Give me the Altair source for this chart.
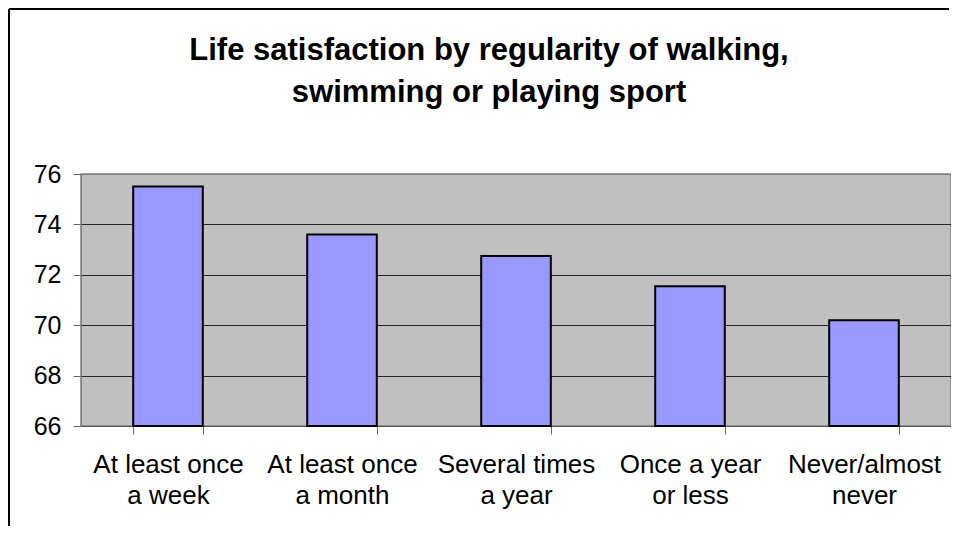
import altair as alt
import pandas as pd

CATEGORIES = [
    "At least once a week",
    "At least once a month",
    "Several times a year",
    "Once a year or less",
    "Never/almost never",
]
LABEL_LINE1 = ["At least once", "At least once", "Several times", "Once a year", "Never/almost"]
LABEL_LINE2 = ["a week", "a month", "a year", "or less", "never"]
VALUES = [75.5, 73.6, 72.75, 71.55, 70.2]
Y_TICKS = [66, 68, 70, 72, 74, 76]
Y_MIN, Y_MAX = 66, 76
TITLE_LINES = ["Life satisfaction by regularity of walking,", "swimming or playing sport"]

FONT = "Liberation Sans"

df = pd.DataFrame({"category": CATEGORIES, "value": VALUES})

label_map = "{" + ", ".join(
    f"'{c}': ['{a}', '{b}']" for c, a, b in zip(CATEGORIES, LABEL_LINE1, LABEL_LINE2)
) + "}"
label_expr = f"{label_map}[datum.value]"

bars = alt.Chart(df).mark_bar(color="#9999FF", stroke="black", strokeWidth=2).encode(
    x=alt.X(
        "category:N",
        sort=CATEGORIES,
        scale=alt.Scale(paddingInner=0.6, paddingOuter=0.3),
        axis=alt.Axis(
            title=None,
            labelExpr=label_expr,
            labelAngle=0,
            labelFont=FONT,
            labelFontSize=26,
            labelLineHeight=31,
            labelPadding=17,
            labelColor="black",
            tickBand="extent",
            tickSize=8,
            tickColor="#666666",
            domainColor="#555555",
            grid=False,
        ),
    ),
    y=alt.Y(
        "value:Q",
        scale=alt.Scale(domain=[Y_MIN, Y_MAX], nice=False, zero=False),
        axis=alt.Axis(
            title=None,
            values=Y_TICKS,
            labelFont=FONT,
            labelFontSize=25,
            labelPadding=12,
            labelColor="black",
            tickSize=8,
            tickColor="#666666",
            domainColor="#808080",
            grid=True,
            gridColor={"condition": {"test": "datum.value == 76", "value": "#808080"}, "value": "#222222"},
            gridWidth=1,
        ),
    ),
    y2=alt.datum(Y_MIN),
)

frame_df = pd.DataFrame({"k": [0]})
frame_left = alt.Chart(frame_df).mark_rule(color="black", strokeWidth=2).encode(
    x=alt.value(-72), y=alt.value(-165), y2=alt.value(420)
)
frame_top = alt.Chart(frame_df).mark_rule(color="black", strokeWidth=2).encode(
    x=alt.value(-72), x2=alt.value(868), y=alt.value(-165)
)

chart = alt.layer(frame_left, frame_top, bars).properties(
    width=870,
    height=252,
    background="white",
    title=alt.TitleParams(
        TITLE_LINES,
        font=FONT,
        fontSize=31,
        fontWeight="bold",
        color="black",
        lineHeight=42,
        anchor="middle",
        baseline="top",
        dx=-27,
        offset=-101,
    ),
    autosize=alt.AutoSizeParams(type="none"),
    padding={"left": 73, "top": 166, "right": 0, "bottom": 100},
).configure_view(
    fill="#C0C0C0", stroke="#808080", strokeWidth=1.5
)

chart.save("out.html", embed_options={"renderer": "svg", "actions": False})
